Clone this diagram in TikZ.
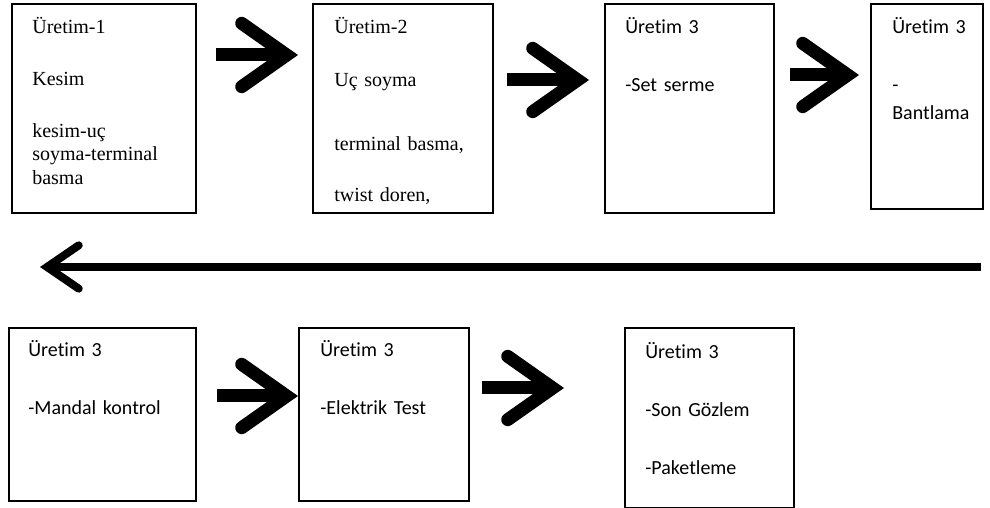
\documentclass[tikz,border=0pt]{standalone}
\usepackage{fontspec}
\setmainfont{Liberation Serif}
\newfontfamily\calibri{Carlito}[Ligatures=NoCommon]
\usetikzlibrary{arrows.meta, calc}
\tikzset{
  every picture/.style={x=0.6pt, y=-0.6pt},
  stage/.style={draw, line width=1.1pt, anchor=north west, inner sep=0pt},
  serif txt/.style={anchor=base west, inner sep=0pt, text width=100pt, align=left, font=\fontsize{12}{14}\selectfont},
  sans txt/.style={anchor=base west, inner sep=0pt, text width=95pt, align=left, font=\calibri\fontsize{12}{16.8}\selectfont},
  bigarrow/.style={draw, line width=7.8pt, -{Straight Barb[length=27pt, width=38pt, line cap=round, line join=miter]}},
  backarrow/.style={draw, line width=4.8pt, -{Straight Barb[length=19pt, width=26pt, line cap=round, line join=miter]}},
}

\begin{document}
\begin{tikzpicture}
  \useasboundingbox (0,0) rectangle (990,508);
  % top row
  \node[stage, minimum width=110.4pt, minimum height=125.4pt] (b1) at (11,3) {};
  \node[stage, minimum width=108pt, minimum height=125.4pt] (b2) at (312,3) {};
  \node[stage, minimum width=101.4pt, minimum height=125.4pt] (b3) at (604,3) {};
  \node[stage, minimum width=67.2pt, minimum height=123pt] (b4) at (870,3) {};
  \node[serif txt] (t1) at ($(b1.north west)+(21,31)$)
    {Üretim-1\\[16.9pt]Kesim\\[17.2pt]kesim-uç\\soyma-terminal\\basma};
  \node[serif txt] (t2) at ($(b2.north west)+(22,31)$)
    {Üretim-2\\[17.8pt]Uç soyma\\[24.4pt]terminal basma,\\[16.6pt]twist doren,};
  \node[sans txt] (t3) at ($(b3.north west)+(21,31)$)
    {Üretim 3\\[18pt]-Set serme};
  \node[sans txt] (t4) at ($(b4.north west)+(22,31)$)
    {Üretim 3\\[18pt]-\\Bantlama};
  % bottom row
  \node[stage, minimum width=112.2pt, minimum height=103.8pt] (b5) at (8,327) {};
  \node[stage, minimum width=102pt, minimum height=103.8pt] (b6) at (298,327) {};
  \node[stage, minimum width=101.4pt, minimum height=108pt] (b7) at (624,327) {};
  \node[sans txt] (t5) at ($(b5.north west)+(20,30)$)
    {Üretim 3\\[18pt]-Mandal kontrol};
  \node[sans txt] (t6) at ($(b6.north west)+(22,30)$)
    {Üretim 3\\[18pt]-Elektrik Test};
  \node[sans txt] (t7) at ($(b7.north west)+(21,32)$)
    {Üretim 3\\[18pt]-Son Gözlem\\[18pt]-Paketleme};
  % arrows
  \draw[bigarrow, shorten <=11.4pt, shorten >=8.4pt] (b1.east |- 0,55) -- (b2.west |- 0,55);
  \draw[bigarrow, shorten <=7.8pt, shorten >=9pt] (b2.east |- 0,80) -- (b3.west |- 0,80);
  \draw[bigarrow, shorten <=9pt, shorten >=6.6pt] (b3.east |- 0,75) -- (b4.west |- 0,75);
  \draw[backarrow, shorten <=1.8pt, shorten >=19.2pt] (b4.east |- 0,267) -- (b5.west |- 0,267);
  \draw[bigarrow, shorten <=12pt] (b5.east |- 0,396) -- (b6.west |- 0,396);
  \draw[bigarrow, shorten <=7.2pt, shorten >=36pt] (b6.east |- 0,388) -- (b7.west |- 0,388);
\end{tikzpicture}
\end{document}
